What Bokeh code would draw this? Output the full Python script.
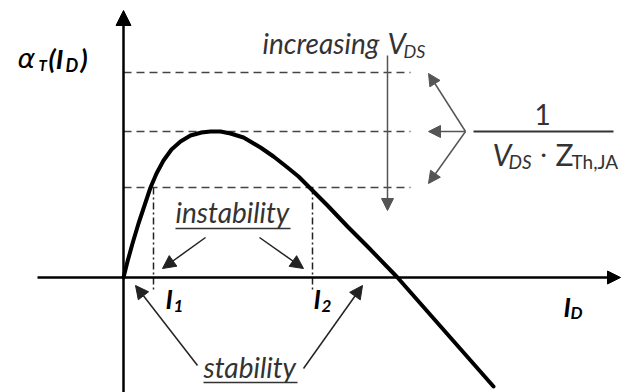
from bokeh.plotting import figure
from bokeh.models import Range1d, Arrow, NormalHead, ColumnDataSource
from bokeh.core.properties import value
from bokeh.embed import file_html
from bokeh.resources import INLINE

# ---- data (diagram units: origin at axis crossing) ----
curve_id = [0, 4, 9, 15, 21, 27, 33, 40, 48, 57, 67, 78, 87, 97, 107, 120, 137, 150, 164, 175, 184, 204, 224, 244, 274, 370]
curve_alpha = [0, 16, 34, 54, 72, 90, 104, 117, 128, 136, 142, 145, 146, 146, 144, 140, 130, 121, 110, 101, 92, 72, 51, 31, 0, -109]

level_y = [205, 146, 90]          # 1/(V_DS*Z) levels
level_x_end = 287
i_points = [30, 189]              # I1, I2
i_labels = ["1", "2"]
i_label_x = [42, 190]
inst_level = 90
i_bottom = -13

font = "Lato"
ink = "#333333"
grey = "#555555"
K = 0.33   # baseline correction factor

p = figure(width=631, height=392, x_range=Range1d(-123, 508), y_range=Range1d(-115, 277),
           output_backend="svg", toolbar_location=None, min_border=0,
           x_axis_location=None, y_axis_location=None)
p.grid.visible = False
p.outline_line_color = None
p.background_fill_color = "white"

# axes
p.add_layout(Arrow(x_start=0, y_start=-115, x_end=0, y_end=267, line_width=2.5, line_color="black",
                   end=NormalHead(size=15, fill_color="black", line_color="black")))
p.add_layout(Arrow(x_start=-86, y_start=0, x_end=497, y_end=0, line_width=2.5, line_color="black",
                   end=NormalHead(size=13, fill_color="black", line_color="black")))

# dashed levels
for ly in level_y:
    p.line([0, level_x_end], [ly, ly], line_color="#444444", line_width=1.5, line_dash="8 5")

# dash-dot verticals
for ix in i_points:
    p.line([ix, ix], [inst_level, i_bottom], line_color="#222222", line_width=1.5, line_dash="7 3 2 3")

# curve
p.line(curve_id, curve_alpha, line_color="black", line_width=4, line_join="round", line_cap="round")

def arrows(xs, ys, xe, ye, size, color, lw):
    src = ColumnDataSource(dict(x0=xs, y0=ys, x1=xe, y1=ye))
    p.add_layout(Arrow(source=src, x_start="x0", y_start="y0", x_end="x1", y_end="y1",
                       line_color=color, line_width=lw,
                       end=NormalHead(size=size, fill_color=color, line_color=color)))

# instability / stability arrows
arrows([82, 136], [40, 40], [39, 180], [9, 9], 13, "#222222", 1.5)
arrows([74, 180], [-88, -91], [12, 239], [-8, -8], 13, "#222222", 1.5)
# increasing V_DS arrow
arrows([264], [222], [264], [67], 12, grey, 1.5)
# three arrows to levels
arrows([342, 342, 342], [146, 146, 146], [305, 305, 305], [204, 146, 94], 12, grey, 1.5)

# fraction bar
p.line([350, 490], [146, 146], line_color=ink, line_width=2)
# underlines
p.line([52, 167], [49, 49], line_color=ink, line_width=1.5)
p.line([80, 174], [-105, -105], line_color=ink, line_width=1.5)

def txt(x, y, s, size, style="normal", color=ink, align="left", fnt=None):
    p.text(x=[x], y=[y + K * size], text=[s], text_font=value(fnt or font), text_font_size=f"{size}px",
           text_font_style=style, text_color=color, text_align=align, text_baseline="alphabetic")

# y label
txt(-106, 210, "α", 27, "italic", "black", fnt="DejaVu Sans")
txt(-85, 208, "T", 15, "bold italic", "black")
txt(-75, 210, "(I", 27, "bold italic", "black")
txt(-58, 207, "D", 18, "bold italic", "black")
txt(-43, 210, ")", 27, "bold italic", "black")

txt(139, 225, "increasing", 28, "italic")
txt(264, 225, "V", 29, "italic")
txt(280, 221, "DS", 18, "italic")

txt(52, 56, "instability", 28, "italic")
txt(80, -99, "stability", 28, "italic")

for lx, lab in zip(i_label_x, i_labels):
    txt(lx, -30, "I", 26, "bold italic", "black")
    txt(lx + 8, -34, lab, 17, "bold italic", "black")
txt(440, -38, "I", 26, "bold italic", "black")
txt(447, -41, "D", 17, "bold italic", "black")

txt(419, 154, "1", 28, "normal", ink, "center")
txt(369, 114, "V", 30, "italic")
txt(385, 110, "DS", 19, "italic")
txt(420, 117, "·", 24, "normal", ink, "center")
txt(432, 114, "Z", 30, "normal")
txt(448, 110, "Th,JA", 19, "normal")

open("out.html", "w").write(file_html(p, INLINE))
